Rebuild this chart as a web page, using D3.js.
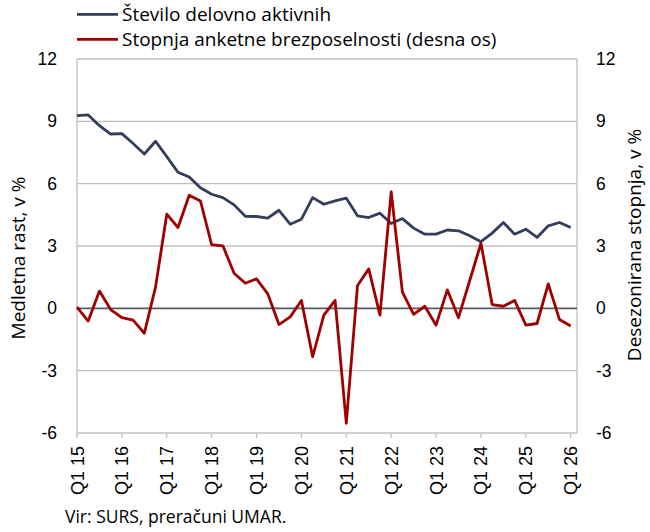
<!DOCTYPE html>
<html>
<head>
<meta charset="utf-8">
<script src="https://cdn.jsdelivr.net/npm/d3@7"></script>
<style>
  body { margin: 0; background: #fff; }
  svg text { fill: #000; }
</style>
</head>
<body>
<div id="chart"></div>
<script>
// quarterly data, Q1 2015 - Q1 2026
const tickLabels = ["Q1 15", "Q1 16", "Q1 17", "Q1 18", "Q1 19", "Q1 20", "Q1 21", "Q1 22", "Q1 23", "Q1 24", "Q1 25", "Q1 26"];
const yTicks = [-6, -3, 0, 3, 6, 9, 12];

const employed = [
    9.27, 9.31, 8.79, 8.39, 8.41, 7.93, 7.43, 8.04, 7.30, 6.55, 6.32, 5.80,
    5.49, 5.33, 4.98, 4.43, 4.42, 4.34, 4.72, 4.05, 4.29, 5.33, 5.01, 5.17,
    5.30, 4.45, 4.37, 4.58, 4.08, 4.32, 3.86, 3.57, 3.57, 3.77, 3.73, 3.49,
    3.21, 3.62, 4.13, 3.57, 3.81, 3.41, 3.97, 4.13, 3.89
];
const unemployment = [
    0.06, -0.61, 0.83, -0.06, -0.45, -0.57, -1.20, 1.02, 4.53, 3.89, 5.44, 5.17,
    3.06, 3.01, 1.69, 1.21, 1.42, 0.70, -0.78, -0.41, 0.38, -2.33, -0.33, 0.38,
    -5.53, 1.10, 1.90, -0.33, 5.61, 0.78, -0.29, 0.10, -0.81, 0.89, -0.45, 1.34,
    3.13, 0.18, 0.10, 0.38, -0.81, -0.73, 1.18, -0.54, -0.85
];

const width = 650;
const height = 532;
const plotLeft = 77, plotRight = 577, plotTop = 59, plotBottom = 433;
const tickFont = "'Liberation Sans', Arial, sans-serif";
const textFont = "'Open Sans', 'Noto Sans', sans-serif";

const svg = d3.select("#chart").append("svg")
    .attr("width", width)
    .attr("height", height);

const x = d3.scaleLinear()
    .domain([0, employed.length - 0.44])
    .range([plotLeft, plotRight]);
const yL = d3.scaleLinear().domain([-6, 12]).range([plotBottom, plotTop]);
const yR = d3.scaleLinear().domain([-6, 12]).range([plotBottom, plotTop]);

// grid
svg.append("g")
    .selectAll("line")
    .data(yTicks.filter(d => d !== 0))
    .join("line")
    .attr("x1", plotLeft)
    .attr("x2", plotRight)
    .attr("y1", d => yL(d))
    .attr("y2", d => yL(d))
    .attr("stroke", "#bfbfbf")
    .attr("stroke-width", 1.3);

// frame sides
svg.append("line")
    .attr("x1", plotLeft).attr("x2", plotLeft)
    .attr("y1", plotTop).attr("y2", plotBottom)
    .attr("stroke", "#bfbfbf").attr("stroke-width", 1.3);
svg.append("line")
    .attr("x1", plotRight).attr("x2", plotRight)
    .attr("y1", plotTop).attr("y2", plotBottom)
    .attr("stroke", "#bfbfbf").attr("stroke-width", 1.3);

// x axis ticks (yearly)
const xTickIdx = tickLabels.map((d, i) => i * 4);
svg.append("g")
    .selectAll("line")
    .data(xTickIdx)
    .join("line")
    .attr("x1", d => x(d))
    .attr("x2", d => x(d))
    .attr("y1", plotBottom)
    .attr("y2", plotBottom + 5)
    .attr("stroke", "#bfbfbf")
    .attr("stroke-width", 1.3);

svg.append("g")
    .selectAll("text")
    .data(tickLabels)
    .join("text")
    .attr("transform", (d, i) => `translate(${x(xTickIdx[i]) + 6.5}, 446) rotate(-90)`)
    .attr("text-anchor", "end")
    .attr("font-family", tickFont)
    .attr("font-size", 18)
    .text(d => d);

// zero line
svg.append("line")
    .attr("x1", plotLeft).attr("x2", plotRight)
    .attr("y1", yL(0)).attr("y2", yL(0))
    .attr("stroke", "#555b63")
    .attr("stroke-width", 1.6);

// y tick labels
svg.append("g")
    .selectAll("text")
    .data(yTicks)
    .join("text")
    .attr("x", 57)
    .attr("y", d => yL(d) + 6)
    .attr("text-anchor", "end")
    .attr("font-family", tickFont)
    .attr("font-size", 17.5)
    .text(d => d);

svg.append("g")
    .selectAll("text")
    .data(yTicks)
    .join("text")
    .attr("x", 596)
    .attr("y", d => yR(d) + 6)
    .attr("font-family", tickFont)
    .attr("font-size", 17.5)
    .text(d => d);

// lines
const lineL = d3.line().x((d, i) => x(i)).y(d => yL(d));
const lineR = d3.line().x((d, i) => x(i)).y(d => yR(d));

svg.append("path")
    .datum(employed)
    .attr("d", lineL)
    .attr("fill", "none")
    .attr("stroke", "#323e5b")
    .attr("stroke-width", 2.8)
    .attr("stroke-linejoin", "round");

svg.append("path")
    .datum(unemployment)
    .attr("d", lineR)
    .attr("fill", "none")
    .attr("stroke", "#a00000")
    .attr("stroke-width", 2.8)
    .attr("stroke-linejoin", "round");

// axis titles
svg.append("text")
    .attr("transform", "translate(25, 258) rotate(-90)")
    .attr("text-anchor", "middle")
    .attr("font-family", textFont)
    .attr("font-size", 19)
    .text("Medletna rast, v %");

svg.append("text")
    .attr("transform", "translate(641, 245) rotate(-90)")
    .attr("text-anchor", "middle")
    .attr("font-family", textFont)
    .attr("font-size", 19)
    .text("Desezonirana stopnja, v %");

// legend
const legend = [
    {name: "Število delovno aktivnih", color: "#323e5b"},
    {name: "Stopnja anketne brezposelnosti (desna os)", color: "#a00000"}
];
const lg = svg.append("g")
    .selectAll("g")
    .data(legend)
    .join("g")
    .attr("transform", (d, i) => `translate(77, ${14.3 + i * 25})`);
lg.append("line")
    .attr("x1", 0).attr("x2", 41)
    .attr("stroke", d => d.color)
    .attr("stroke-width", 2.8);
lg.append("text")
    .attr("x", 45)
    .attr("y", 7)
    .attr("font-family", textFont)
    .attr("font-size", 19)
    .text(d => d.name);

// source
svg.append("text")
    .attr("x", 65)
    .attr("y", 523)
    .attr("font-family", textFont)
    .attr("font-size", 17.5)
    .text("Vir: SURS, preračuni UMAR.");
</script>
</body>
</html>
